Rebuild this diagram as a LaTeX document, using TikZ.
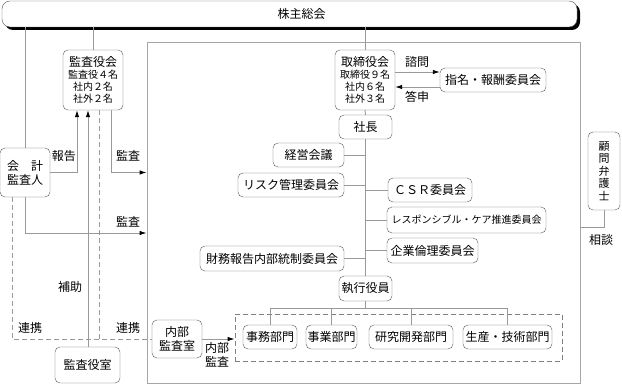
\documentclass[tikz,border=0pt]{standalone}
\usepackage{fontspec}
\setmainfont{Noto Sans CJK JP}
\usetikzlibrary{arrows.meta,shadows}
\newcommand{\smalljp}{\fontsize{10}{12}\selectfont}
\newcommand{\bigjp}{\fontsize{12}{14}\selectfont}

\begin{document}
\begin{tikzpicture}[x=1pt, y=-1pt,
	every node/.style={font=\bigjp},
	box/.style={draw=black!65, rounded corners=5pt, fill=white, inner sep=1pt, align=center, minimum height=24pt},
	conn/.style={draw=black!40, line width=0.9pt},
	arr/.style={conn, -{Latex[length=7pt,width=4.5pt,color=black]}},
	link/.style={conn, dash pattern=on 5pt off 3pt},
	lbl/.style={inner sep=0pt, align=center}]
	\useasboundingbox (0,0) rectangle (622,385);
	\node[draw=black!35, line width=0.8pt, minimum width=433pt, minimum height=341pt, inner sep=0pt] (co) at (363.5,212.5) {};
	\node[draw=black!50, dash pattern=on 5pt off 3pt, line width=0.8pt, minimum width=327pt, minimum height=47pt, inner sep=0pt] (dept) at (398.5,337.5) {};
	\node[box, rounded corners=8pt, minimum width=575pt, minimum height=26pt, drop shadow={shadow xshift=3pt, shadow yshift=-3pt, fill=black, opacity=1}] (share) at (289.5,14) {\hspace*{24pt}株主総会};
	\node[box, minimum width=60pt, minimum height=60pt, font=\smalljp] (kansa) at (93,80) {{\bigjp 監査役会}\\監査役４名\\社内２名\\社外２名};
	\node[box, minimum width=50pt, minimum height=49pt] (kaikei) at (25,172.5) {会　計\\監査人};
	\node[box, minimum width=65pt, minimum height=36pt] (shitsu) at (87.5,365) {監査役室};
	\node[box, minimum width=60pt, minimum height=60pt, font=\smalljp] (board) at (365,80) {{\bigjp 取締役会}\\取締役９名\\社内６名\\社外３名};
	\node[box, minimum width=106pt] (nomi) at (493,80) {指名・報酬委員会};
	\node[box, minimum width=53pt] (pres) at (365.5,127) {社長};
	\node[box, minimum width=71pt] (keiei) at (308.5,155) {経営会議};
	\node[box, minimum width=106pt] (risk) at (291,185) {リスク管理委員会};
	\node[box, minimum width=84pt] (csr) at (430,190) {ＣＳＲ委員会};
	\node[box, minimum width=159pt, minimum height=26pt, font=\smalljp] (rc) at (466.5,220) {レスポンシブル・ケア推進委員会};
	\node[box, minimum width=91pt, minimum height=25pt] (rinri) at (432.5,250.5) {企業倫理委員会};
	\node[box, minimum width=144pt, minimum height=25pt] (zaimu) at (272,258.5) {財務報告内部統制委員会};
	\node[box, minimum width=53pt, minimum height=25pt] (exec) at (365.5,288.5) {執行役員};
	\node[box, minimum width=54pt] (jimu) at (270,337) {事務部門};
	\node[box, minimum width=51pt] (jigyo) at (331.5,337) {事業部門};
	\node[box, minimum width=84pt] (kenkyu) at (411,337) {研究開発部門};
	\node[box, minimum width=89pt] (seisan) at (507.5,337) {生産・技術部門};
	\node[box, minimum width=50pt, minimum height=38pt] (naibu) at (177,339) {内部\\監査室};
	\node[box, minimum width=32pt, minimum height=78pt, font=\fontsize{11}{12.5}\selectfont] (bengo) at (604,171) {顧\\問\\弁\\護\\士};
	\draw[conn] (board.north) -- (board.north |- share.south);
	\draw[conn] (kansa.north) -- (kansa.north |- share.south);
	\draw[conn] (kaikei.north) -- (kaikei.north |- share.south);
	\draw[conn] (board.south) -- (pres.north);
	\draw[conn] (pres.south) -- (exec.north);
	\foreach \n in {keiei,risk,zaimu} \draw[conn] (\n.east) -- (\n.east -| pres.south);
	\foreach \n in {csr,rc,rinri} \draw[conn] (\n.west) -- (\n.west -| pres.south);
	\coordinate (split) at (365.5,308);
	\draw[conn] (exec.south) -- (split);
	\draw[conn] (jimu.north) -- (jimu.north |- split) -- (seisan.north |- split) -- (seisan.north);
	\foreach \n in {jigyo,kenkyu} \draw[conn] (\n.north) -- (\n.north |- split);
	\draw[arr] ([yshift=8pt]board.east) -- ([yshift=8pt]board.east -| nomi.west);
	\draw[arr] ([yshift=-7pt]nomi.west) -- ([yshift=-7pt]nomi.west -| board.east);
	\draw[arr] (kaikei.east) -| ([xshift=-16pt]kansa.south);
	\draw[arr] ([xshift=0.5pt]shitsu.north) -- ([xshift=-5pt]kansa.south);
	\draw[arr] ([xshift=18pt]kansa.south) |- (co.west |- kaikei.east);
	\draw[arr] (kaikei.south) |- (co.west |- 0,233);
	\draw[link] ([xshift=-13pt]kaikei.south) |- (naibu.west);
	\draw[link] ([xshift=6pt]kansa.south) -- ([xshift=6pt]kansa.south |- naibu.west);
	\draw[arr] (naibu.east) -- (naibu.east -| dept.west);
	\draw[conn] (bengo.south) |- (co.east |- 0,227);
	\node[lbl] (hokoku) at (64,156) {報告};
	\node[lbl] (kansa1) at (128,156) {監査};
	\node[lbl] (kansa2) at (128,222) {監査};
	\node[lbl] (hojo) at (70,287) {補助};
	\node[lbl] (renkei1) at (30,328) {連携};
	\node[lbl] (renkei2) at (128,328) {連携};
	\node[lbl] (shimon) at (417,62) {諮問};
	\node[lbl] (toshin) at (417,97) {答申};
	\node[lbl] (naibukansa) at (217,355) {内部\\監査};
	\node[lbl] (sodan) at (601,240) {相談};
\end{tikzpicture}
\end{document}
